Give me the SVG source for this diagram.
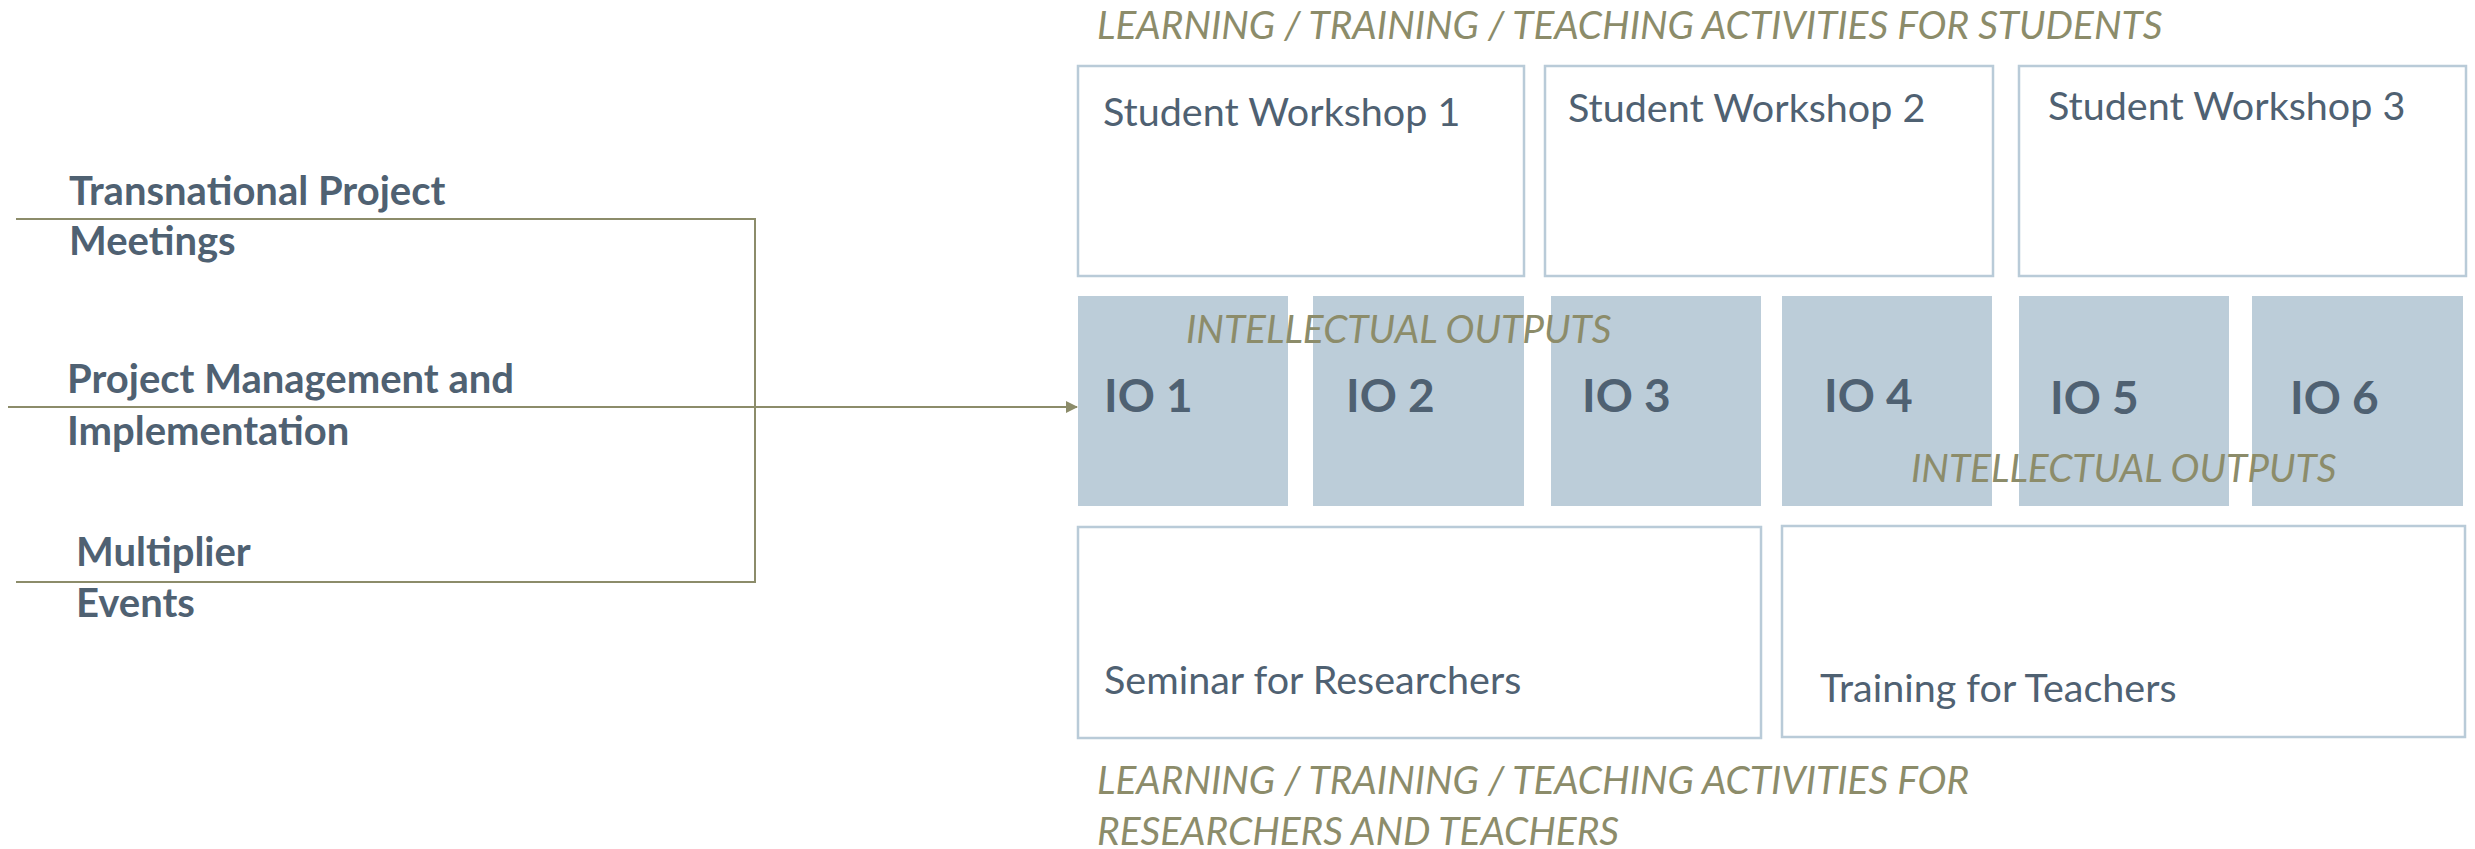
<svg xmlns="http://www.w3.org/2000/svg" width="2475" height="849" viewBox="0 0 2475 849">
<defs>
<style>
.box{fill:#ffffff;stroke:#b9cbd8;stroke-width:2.5}
.io{fill:#bccdd9;stroke:none}
.lbl{font-family:Lato,"Open Sans","Liberation Sans",sans-serif;fill:#4f6172;font-size:39.5px}
.left{font-family:Lato,"Open Sans","Liberation Sans",sans-serif;fill:#4f6172;font-size:40px;font-weight:bold}
.iot{font-family:Lato,"Open Sans","Liberation Sans",sans-serif;fill:#4f6172;font-size:46px;font-weight:bold}
.head{font-family:Lato,"Open Sans","Liberation Sans",sans-serif;fill:#8c8c6a;font-size:38.8px;font-style:italic}
.conn{fill:none;stroke:#8c8c6a;stroke-width:2}
</style>
<marker id="arr" markerWidth="12" markerHeight="12" refX="11" refY="6" orient="auto" markerUnits="userSpaceOnUse">
<path d="M0,0 L12,6 L0,12 Z" fill="#8c8c6a"/>
</marker>
</defs>
<rect width="2475" height="849" fill="#ffffff"/>

<text class="head" x="1097" y="39">LEARNING / TRAINING / TEACHING ACTIVITIES FOR STUDENTS</text>

<g id="sw1"><rect class="box" x="1078" y="66" width="446" height="210"/><text class="lbl" x="1103" y="126">Student Workshop 1</text></g>
<g id="sw2"><rect class="box" x="1545" y="66" width="448" height="210"/><text class="lbl" x="1568" y="122">Student Workshop 2</text></g>
<g id="sw3"><rect class="box" x="2019" y="66" width="447" height="210"/><text class="lbl" x="2048" y="120">Student Workshop 3</text></g>

<g id="io1"><rect class="io" x="1078" y="296" width="210" height="210"/><text class="iot" x="1104" y="412">IO 1</text></g>
<g id="io2"><rect class="io" x="1313" y="296" width="211" height="210"/><text class="iot" x="1346" y="412">IO 2</text></g>
<g id="io3"><rect class="io" x="1551" y="296" width="210" height="210"/><text class="iot" x="1582" y="412">IO 3</text></g>
<g id="io4"><rect class="io" x="1782" y="296" width="210" height="210"/><text class="iot" x="1824" y="412">IO 4</text></g>
<g id="io5"><rect class="io" x="2019" y="296" width="210" height="210"/><text class="iot" x="2050" y="414">IO 5</text></g>
<g id="io6"><rect class="io" x="2252" y="296" width="211" height="210"/><text class="iot" x="2290" y="414">IO 6</text></g>

<text class="head" x="1186" y="343">INTELLECTUAL OUTPUTS</text>
<text class="head" x="1911" y="482">INTELLECTUAL OUTPUTS</text>

<g id="seminar"><rect class="box" x="1078" y="527" width="683" height="211"/><text class="lbl" x="1104" y="694">Seminar for Researchers</text></g>
<g id="training"><rect class="box" x="1782" y="526" width="683" height="211"/><text class="lbl" x="1820" y="702">Training for Teachers</text></g>

<text class="head" x="1097" y="794">LEARNING / TRAINING / TEACHING ACTIVITIES FOR</text>
<text class="head" x="1097" y="845">RESEARCHERS AND TEACHERS</text>

<g id="tpm"><text class="left" x="69" y="205">Transnational Project</text><text class="left" x="69" y="255">Meetings</text></g>
<g id="pmi"><text class="left" x="67" y="393">Project Management and</text><text class="left" x="67" y="445">Implementation</text></g>
<g id="me"><text class="left" x="76" y="566">Multiplier</text><text class="left" x="76" y="617">Events</text></g>

<g id="connectors">
<polyline class="conn" points="16,219 755,219 755,582 16,582"/>
<line class="conn" x1="8" y1="407" x2="1077" y2="407" marker-end="url(#arr)"/>
</g>
</svg>
